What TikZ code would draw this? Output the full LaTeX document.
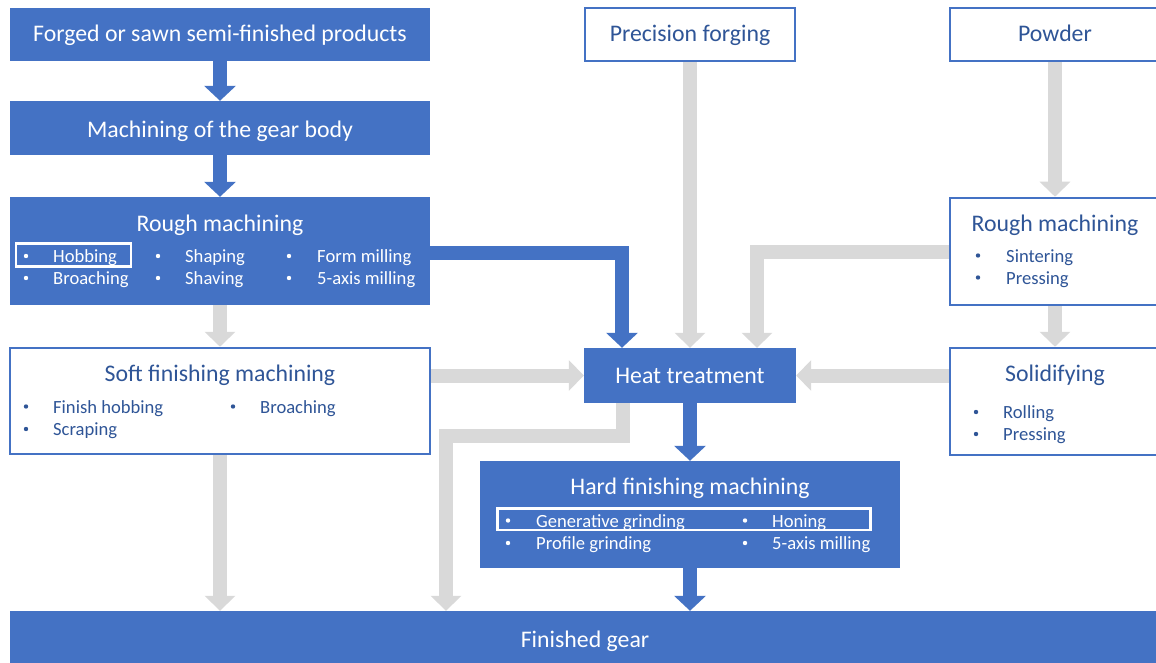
\documentclass[tikz,border=0pt]{standalone}
\usepackage{fontspec}
\setmainfont{Carlito}
\usetikzlibrary{arrows.meta}

\definecolor{flowblue}{HTML}{4472C4}
\definecolor{inkblue}{HTML}{2F5597}
\definecolor{flowgray}{HTML}{D9D9D9}

% one bullet line: name, bullet x, text x, baseline y, colour, text
\newcommand\lineitem[6]{%
  \node[dot, fill=#5] (#1-dot) at (#2,#4-6.5) {};
  \node[item, text=#5, anchor=base west] (#1) at (#3,#4) {#6};}

\tikzset{
  solidbox/.style={rectangle, fill=flowblue, draw=none, inner sep=0pt},
  framebox/.style={rectangle, fill=white, draw=flowblue, line width=2.5pt, inner sep=0pt},
  titlew/.style={text=white, inner sep=0pt, font=\fontsize{23.8}{28}\selectfont},
  titleb/.style={text=inkblue, inner sep=0pt, font=\fontsize{23.8}{28}\selectfont},
  item/.style={inner sep=0pt, font=\fontsize{18.6}{22}\selectfont},
  dot/.style={circle, draw=none, inner sep=0pt, minimum size=4.4pt},
  bluearrow/.style={draw=flowblue, line width=14pt, line join=miter,
    -{Triangle[width=31pt,length=15pt]}},
  grayarrow/.style={draw=flowgray, line width=14pt, line join=miter,
    -{Triangle[width=30pt,length=15pt]}},
  hilite/.style={draw=white, line width=2.5pt},
}

\begin{document}
\begin{tikzpicture}[x=1pt,y=-1pt]
\useasboundingbox (0,0) rectangle (1156,663);
\fill[white] (0,0) rectangle (1156,663);
\clip (0,0) rectangle (1156,663);

% ---------- boxes ----------
\node[solidbox, minimum width=420pt, minimum height=53pt] (forged) at (220,34.5) {};
\node[solidbox, minimum width=420pt, minimum height=54pt] (body) at (220,128) {};
\node[solidbox, minimum width=420pt, minimum height=108pt] (rough) at (220,251) {};
\node[framebox, minimum width=420pt, minimum height=106pt] (soft) at (220,401) {};
\node[framebox, minimum width=210pt, minimum height=53pt] (precision) at (690,34.5) {};
\node[framebox, minimum width=210pt, minimum height=53pt] (powder) at (1055,34.5) {};
\node[framebox, minimum width=210pt, minimum height=107pt] (prough) at (1055,251.5) {};
\node[framebox, minimum width=210pt, minimum height=107pt] (solid) at (1055,401.5) {};
\node[solidbox, minimum width=212pt, minimum height=55pt] (heat) at (690,375.5) {};
\node[solidbox, minimum width=420pt, minimum height=107pt] (hard) at (690,514.5) {};
\node[solidbox, minimum width=1150pt, minimum height=55pt] (finished) at (585,638.5) {};

% ---------- titles ----------
\node[titlew, anchor=base] (forged-t) at (220,42) {Forged or sawn semi-finished products};
\node[titlew, anchor=base] (body-t) at (220,138) {Machining of the gear body};
\node[titlew, anchor=base] (rough-t) at (220,231) {Rough machining};
\node[titleb, anchor=base] (soft-t) at (220,381) {Soft finishing machining};
\node[titleb, anchor=base] (precision-t) at (690,42) {Precision forging};
\node[titleb, anchor=base] (powder-t) at (1055,42) {Powder};
\node[titleb, anchor=base] (prough-t) at (1055,232) {Rough machining};
\node[titleb, anchor=base] (solid-t) at (1055,381) {Solidifying};
\node[titlew, anchor=base] (heat-t) at (690,383) {Heat treatment};
\node[titlew, anchor=base] (hard-t) at (690,494) {Hard finishing machining};
\node[titlew, anchor=base] (finished-t) at (585,647) {Finished gear};

% ---------- process lists ----------
\lineitem{r1}{26}{53}{262.5}{white}{Hobbing}
\lineitem{r2}{26}{53}{284.5}{white}{Broaching}
\lineitem{r3}{158}{185}{262.5}{white}{Shaping}
\lineitem{r4}{158}{185}{284.5}{white}{Shaving}
\lineitem{r5}{289}{317}{262.5}{white}{Form milling}
\lineitem{r6}{289}{317}{284.5}{white}{5-axis milling}
\draw[hilite] (16,243.5) rectangle (131,266.5);

\lineitem{s1}{26}{53}{413}{inkblue}{Finish hobbing}
\lineitem{s2}{26}{53}{435.5}{inkblue}{Scraping}
\lineitem{s3}{233}{260}{413}{inkblue}{Broaching}

\lineitem{h1}{508}{536}{527}{white}{Generative grinding}
\lineitem{h2}{508}{536}{549.5}{white}{Profile grinding}
\lineitem{h3}{745}{772}{527}{white}{Honing}
\lineitem{h4}{745}{772}{549.5}{white}{5-axis milling}
\draw[hilite] (497.5,508.5) rectangle (870.5,530);

\lineitem{p1}{978}{1006}{262}{inkblue}{Sintering}
\lineitem{p2}{978}{1006}{284}{inkblue}{Pressing}
\lineitem{q1}{976}{1003}{418.5}{inkblue}{Rolling}
\lineitem{q2}{976}{1003}{440.5}{inkblue}{Pressing}

% ---------- connectors ----------
\coordinate (detour) at (446,436);

\draw[grayarrow] (rough.south) -- (soft.north);
\draw[grayarrow] (soft.south) -- (soft.south |- finished.north);
\draw[grayarrow] (soft.east |- heat.west) -- (heat.west);
\draw[grayarrow] (precision.south) -- (heat.north);
\draw[grayarrow] (prough.west) -| ([xshift=67pt]heat.north);
\draw[grayarrow] (solid.west |- heat.east) -- (heat.east);
\draw[grayarrow] (powder.south) -- (prough.north);
\draw[grayarrow] (prough.south) -- (solid.north);
\draw[grayarrow] ([xshift=-67pt]heat.south) |- (detour) -- (detour |- finished.north);

\draw[bluearrow] (forged.south) -- (body.north);
\draw[bluearrow] (body.south) -- (rough.north);
\draw[bluearrow] ([yshift=-2pt]rough.east) -| ([xshift=-68pt]heat.north);
\draw[bluearrow] (heat.south) -- (hard.north);
\draw[bluearrow] (hard.south) -- (hard.south |- finished.north);
\end{tikzpicture}
\end{document}
